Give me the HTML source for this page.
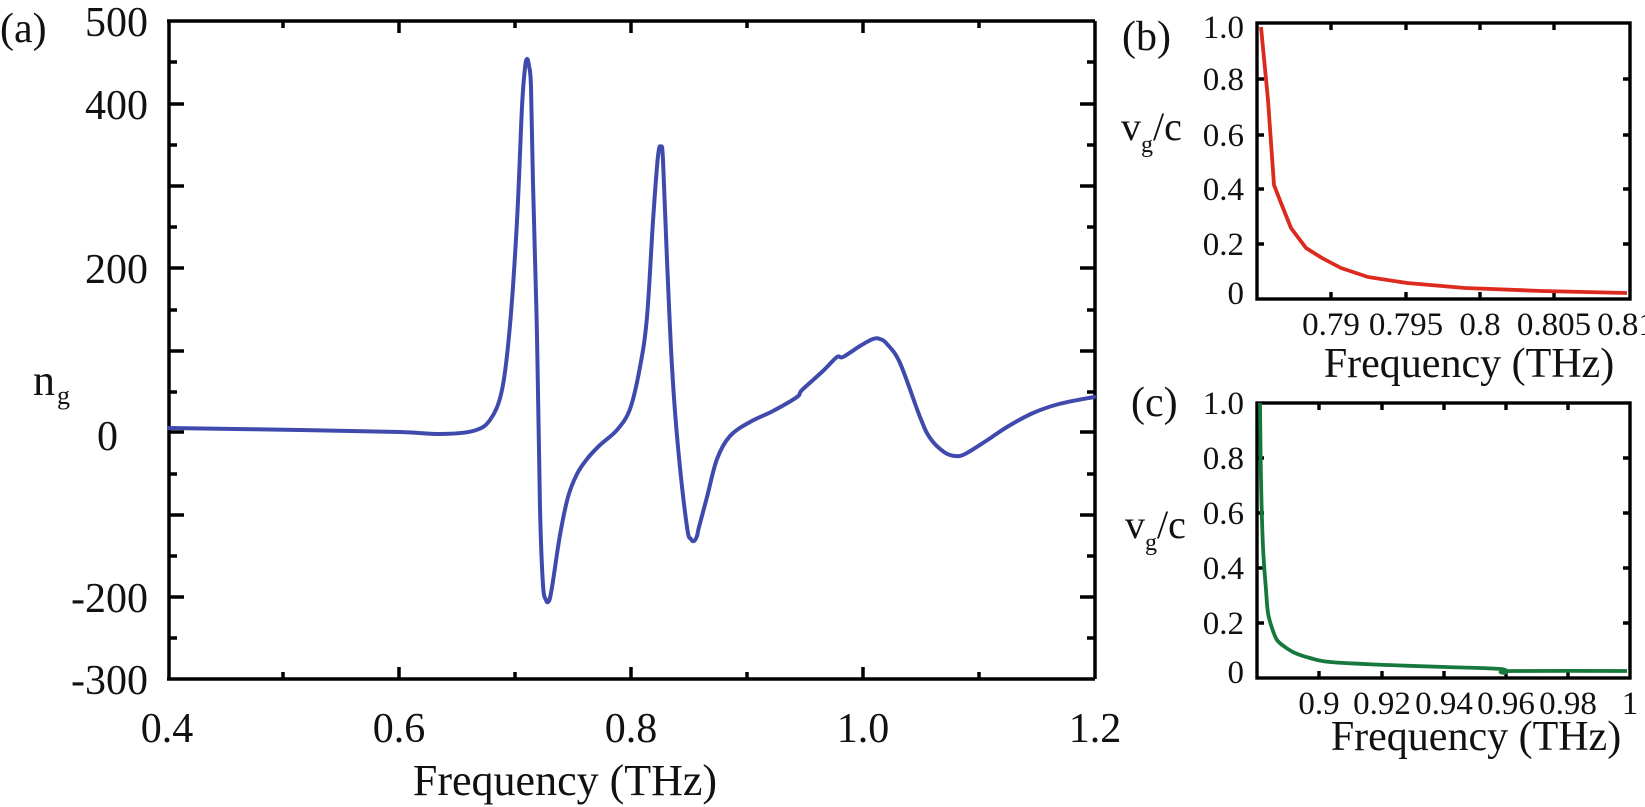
<!DOCTYPE html>
<html><head><meta charset="utf-8"><style>
html,body{margin:0;padding:0;background:#fff;}
svg{display:block;}
text{font-family:"Liberation Serif",serif;fill:#111;}
</style></head><body>
<svg id="s" width="1645" height="807" viewBox="0 0 1645 807" xmlns="http://www.w3.org/2000/svg">
<!-- Panel (a) -->
<text x="0" y="42" font-size="42">(a)</text>
<g font-size="42" text-anchor="end">
<text x="148" y="36">500</text>
<text x="148" y="119">400</text>
<text x="148" y="283">200</text>
<text x="118" y="450">0</text>
<text x="148" y="612">-200</text>
<text x="148" y="694">-300</text>
</g>
<text x="33" y="395" font-size="44">n</text>
<text x="57" y="404" font-size="26">g</text>
<g font-size="42" text-anchor="middle">
<text x="167" y="742">0.4</text>
<text x="399" y="742">0.6</text>
<text x="631" y="742">0.8</text>
<text x="863" y="742">1.0</text>
<text x="1095" y="742">1.2</text>
<text x="565" y="795" font-size="44">Frequency (THz)</text>
</g>
<g stroke="#000" stroke-width="3.5" fill="none">
<path d="M169,21 V679 M167,679 H1095 M1095,679 V21 M1095,21 H167"/>
<path d="M169,62h8 M169,104h15 M169,145h8 M169,186h15 M169,227h8 M169,268h15 M169,310h8 M169,351h15 M169,392h8 M169,432h15 M169,474h8 M169,515h15 M169,556h8 M169,597h15 M169,638h8"/>
<path d="M1095,62h-8 M1095,104h-15 M1095,145h-8 M1095,186h-15 M1095,227h-8 M1095,268h-15 M1095,310h-8 M1095,351h-15 M1095,392h-8 M1095,432h-15 M1095,474h-8 M1095,515h-15 M1095,556h-8 M1095,597h-15 M1095,638h-8"/>
<path d="M283,679v-7 M399,679v-12 M515,679v-7 M631,679v-12 M747,679v-7 M863,679v-12 M979,679v-7"/>
<path d="M283,21v7 M399,21v12 M515,21v7 M631,21v12 M747,21v7 M863,21v12 M979,21v7"/>
</g>
<polyline class="smooth" fill="none" stroke="#3f4aac" stroke-width="4" stroke-linejoin="round" stroke-linecap="round" points="
169,428 300,430 400,432 440,434 473,431 490,420 502,390 510,325 517,221 522,107 525,68 527,59 529,66 531,87 533,183 537,336 540,508 543,585 546,600 548,602 550,598 553,581 560,535 568,497 577,474 587,459 600,445 617,430 630,409 640,367 647,317 653,221 658,156 661,147 663,160 667,260 672,367 678,447 687,527 691,539 694,541 697,536 699,527 707,497 717,459 730,436 750,422 773,411 797,397 802,390 823,371 837,357 843,357 860,346 873,339 880,339 887,344 900,363 920,417 930,438 944,452 955,456 965,454 986,441 1007,427 1033,413 1059,404 1094,397"/>

<!-- Panel (b) -->
<text x="1122" y="50" font-size="42">(b)</text>
<g font-size="33" text-anchor="end">
<text x="1244" y="38">1.0</text>
<text x="1244" y="90">0.8</text>
<text x="1244" y="146">0.6</text>
<text x="1244" y="200">0.4</text>
<text x="1244" y="255">0.2</text>
<text x="1244" y="304">0</text>
</g>
<text x="1121" y="140" font-size="40">v</text>
<text x="1141" y="152" font-size="24">g</text>
<text x="1153" y="140" font-size="40">/c</text>
<g font-size="33" text-anchor="middle">
<text x="1331" y="335">0.79</text>
<text x="1406" y="335">0.795</text>
<text x="1480" y="335">0.8</text>
<text x="1554" y="335">0.805</text>
<text x="1626" y="335">0.81</text>
<text x="1469" y="377" font-size="42">Frequency (THz)</text>
</g>
<g stroke="#000" stroke-width="3.4" fill="none">
<rect x="1257" y="23" width="373" height="276"/>
<path d="M1331,23v7 M1406,23v7 M1480,23v7 M1554,23v7 M1331,299v-7 M1406,299v-7 M1480,299v-7 M1554,299v-7"/>
<path d="M1257,79h7 M1257,135h7 M1257,189h7 M1257,244h7 M1630,79h-7 M1630,135h-7 M1630,189h-7 M1630,244h-7"/>
</g>
<polyline fill="none" stroke="#dc2a1f" stroke-width="3.8" stroke-linejoin="round" points="1261,27 1268,100 1274,185 1281,203 1291,228 1306,248 1322,258 1341,268 1368,277 1407,283 1465,288 1542,291 1627,293"/>

<!-- Panel (c) -->
<text x="1131" y="416" font-size="42">(c)</text>
<g font-size="33" text-anchor="end">
<text x="1244" y="414">1.0</text>
<text x="1244" y="469">0.8</text>
<text x="1244" y="524">0.6</text>
<text x="1244" y="579">0.4</text>
<text x="1244" y="634">0.2</text>
<text x="1244" y="683">0</text>
</g>
<text x="1125" y="538" font-size="40">v</text>
<text x="1145" y="550" font-size="24">g</text>
<text x="1157" y="538" font-size="40">/c</text>
<g font-size="33" text-anchor="middle">
<text x="1319" y="714">0.9</text>
<text x="1382" y="714">0.92</text>
<text x="1444" y="714">0.94</text>
<text x="1506" y="714">0.96</text>
<text x="1568" y="714">0.98</text>
<text x="1630" y="714">1</text>
<text x="1476" y="750" font-size="42">Frequency (THz)</text>
</g>
<g stroke="#000" stroke-width="3.4" fill="none">
<rect x="1257" y="403" width="373" height="275"/>
<path d="M1319,403v7 M1382,403v7 M1444,403v7 M1506,403v7 M1568,403v7 M1319,678v-7 M1382,678v-7 M1444,678v-7 M1506,678v-7 M1568,678v-7"/>
<path d="M1257,458h7 M1257,513h7 M1257,568h7 M1257,623h7 M1630,458h-7 M1630,513h-7 M1630,568h-7 M1630,623h-7"/>
</g>
<polyline class="smooth" fill="none" stroke="#16783c" stroke-width="3.8" stroke-linejoin="round" points="1260,403 1261,480 1263,547 1266,590 1268,613 1272,628 1277,640 1285,647 1295,653 1310,658 1330,662 1387,665 1445,667 1501,669 1505,673 1511,671 1627,671"/>
</svg>
<script>
(function(){
var ns="http://www.w3.org/2000/svg";
var pls=document.querySelectorAll("polyline.smooth");
for(var k=0;k<pls.length;k++){
 var pl=pls[k];
 var nums=pl.getAttribute("points").trim().split(/[\s,]+/).map(Number);
 var p=[];for(var i=0;i+1<nums.length;i+=2)p.push([nums[i],nums[i+1]]);
 var d="M"+p[0][0]+","+p[0][1];
 for(var i=0;i<p.length-1;i++){
  var p0=p[i>0?i-1:i],p1=p[i],p2=p[i+1],p3=p[i+2<p.length?i+2:i+1];
  var c1x=p1[0]+(p2[0]-p0[0])/6,c1y=p1[1]+(p2[1]-p0[1])/6;
  var c2x=p2[0]-(p3[0]-p1[0])/6,c2y=p2[1]-(p3[1]-p1[1])/6;
  d+=" C"+c1x.toFixed(2)+","+c1y.toFixed(2)+" "+c2x.toFixed(2)+","+c2y.toFixed(2)+" "+p2[0]+","+p2[1];
 }
 var path=document.createElementNS(ns,"path");
 path.setAttribute("d",d);
 ["fill","stroke","stroke-width","stroke-linejoin","stroke-linecap"].forEach(function(a){if(pl.getAttribute(a))path.setAttribute(a,pl.getAttribute(a));});
 pl.parentNode.replaceChild(path,pl);
}
})();
</script>
</body></html>
